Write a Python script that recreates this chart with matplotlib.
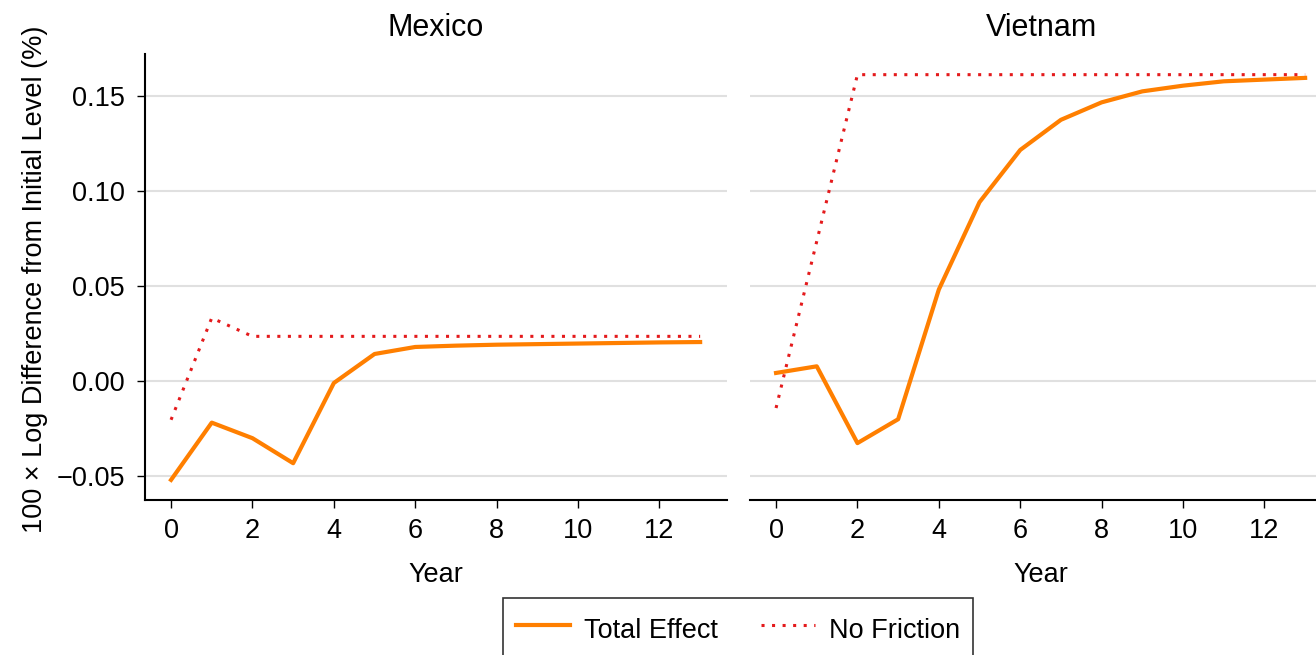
import matplotlib
matplotlib.use("Agg")
import matplotlib.pyplot as plt

plt.rcParams['font.family'] = ['Liberation Sans', 'DejaVu Sans']

years = list(range(14))
countries = ["Mexico", "Vietnam"]
mexico_total = [-0.0523, -0.0221, -0.0303, -0.0435, -0.0012, 0.0141, 0.0178, 0.0185,
                0.0190, 0.0193, 0.0196, 0.0199, 0.0202, 0.0204]
mexico_nofric = [-0.0206, 0.0331, 0.0234, 0.0234, 0.0234, 0.0234, 0.0234, 0.0234,
                 0.0234, 0.0234, 0.0234, 0.0234, 0.0234, 0.0234]
vietnam_total = [0.0041, 0.0076, -0.0329, -0.0203, 0.0481, 0.0942, 0.1217, 0.1376,
                 0.1468, 0.1526, 0.1556, 0.1579, 0.1588, 0.1597]
vietnam_nofric = [-0.0144, 0.0735, 0.1614, 0.1614, 0.1614, 0.1614, 0.1614, 0.1614,
                  0.1614, 0.1614, 0.1614, 0.1614, 0.1614, 0.1614]
yticks = [-0.05, 0.0, 0.05, 0.10, 0.15]
ytick_labels = ["\u22120.05", "0.00", "0.05", "0.10", "0.15"]
xticks = [0, 2, 4, 6, 8, 10, 12]

W, H = 1316, 655
fig = plt.figure(figsize=(W / 100, H / 100), dpi=100)

def frac_x(px):
    return px / W

def frac_y(py):
    return 1 - py / H

ax_w = 582
ax_top, ax_bot = 54, 500
ax_h = ax_bot - ax_top
axes = []
for left_px in (145, 750):
    ax = fig.add_axes([frac_x(left_px), frac_y(ax_bot), ax_w / W, ax_h / H])
    axes.append(ax)

data = [(mexico_total, mexico_nofric), (vietnam_total, vietnam_nofric)]
orange = "#FF7F00"
red = "#E41A1C"
FS = 19.5
for i, ax in enumerate(axes):
    tot, nf = data[i]
    ax.set_xlim(-0.64, 13.66)
    ax.set_ylim(-0.0629, 0.1723)
    ax.set_yticks(yticks)
    ax.grid(axis='y', color='#e0e0e0', linewidth=1.5)
    ax.set_axisbelow(True)
    l1, = ax.plot(years, tot, color=orange, linewidth=3.0, label="Total Effect")
    l2, = ax.plot(years, nf, color=red, linewidth=2.2, linestyle=(0, (1, 2.45)), label="No Friction")
    ax.set_xticks(xticks)
    ax.set_xticklabels([str(t) for t in xticks])
    for s in ("top", "right"):
        ax.spines[s].set_visible(False)
    ax.spines['bottom'].set_linewidth(1.5)
    ax.spines['left'].set_linewidth(1.5)
    ax.tick_params(axis='both', labelsize=FS, length=6, width=1.0, direction='out')
    ax.tick_params(axis='x', pad=7)
    ax.tick_params(axis='y', pad=8.5)
    ax.set_xlabel("Year", fontsize=FS)
    ax.xaxis.set_label_coords(0.5, -(562 - ax_bot) / ax_h)
    ax.set_title(countries[i], fontsize=22, pad=13)
    if i == 0:
        ax.set_yticklabels(ytick_labels)
        ax.set_ylabel("100 \u00d7 Log Difference from Initial Level (%)", fontsize=FS)
        ax.yaxis.set_label_coords((48 - 145) / ax_w, (ax_bot - 279) / ax_h)
    else:
        ax.spines['left'].set_visible(False)
        ax.tick_params(axis='y', left=False, labelleft=False)

leg = fig.legend(handles=[l1, l2], labels=["Total Effect", "No Friction"], ncol=2,
                 loc='upper center', bbox_to_anchor=(frac_x(738), frac_y(598)),
                 frameon=True, fancybox=False, fontsize=FS, handlelength=2.0,
                 handleheight=1.6, handletextpad=0.5, columnspacing=1.6,
                 borderpad=0.5, borderaxespad=0, edgecolor='black')
leg.get_frame().set_linewidth(1.2)

fig.savefig("out.png", dpi=100)
